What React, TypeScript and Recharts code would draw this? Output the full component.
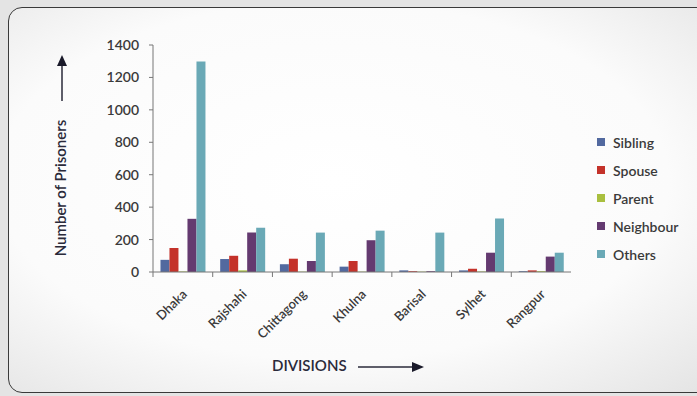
import { BarChart, Bar, XAxis, YAxis } from 'recharts';

const divisions = ['Dhaka', 'Rajshahi', 'Chittagong', 'Khulna', 'Barisal', 'Sylhet', 'Rangpur'];
const sibling = [75, 80, 48, 33, 10, 10, 5];
const spouse = [148, 100, 82, 68, 5, 20, 10];
const parent = [3, 10, 2, 2, 2, 3, 5];
const neighbour = [328, 243, 68, 196, 5, 119, 95];
const others = [1298, 273, 243, 255, 243, 330, 119];
const yTicks = [0, 200, 400, 600, 800, 1000, 1200, 1400];

const series = [
  { key: 'sibling', name: 'Sibling', color: '#52699f' },
  { key: 'spouse', name: 'Spouse', color: '#c4322a' },
  { key: 'parent', name: 'Parent', color: '#a9bf3f' },
  { key: 'neighbour', name: 'Neighbour', color: '#643a70' },
  { key: 'others', name: 'Others', color: '#6aa9b6' },
];

const data = divisions.map((d, i) => ({
  division: d,
  sibling: sibling[i],
  spouse: spouse[i],
  parent: parent[i],
  neighbour: neighbour[i],
  others: others[i],
}));

const font = 'Lato, "Open Sans", sans-serif';

function DivisionTick(props: any) {
  const { x, y, payload } = props;
  const half = payload && payload.offset ? payload.offset : 30;
  const ax = x + 5;
  const ay = y + 15;
  return (
    <g>
      <line x1={x - half} y1={y - 8} x2={x - half} y2={y - 3} stroke="#777" />
      <text
        x={ax}
        y={ay}
        textAnchor="end"
        fontSize={13}
        fontWeight={600}
        fill="#3a3a3a"
        fontFamily={font}
        transform={`rotate(-45, ${ax}, ${ay})`}
      >
        {payload.value}
      </text>
    </g>
  );
}

export default function App() {
  return (
    <div style={{ position: 'absolute', left: 0, top: 0, width: 697, height: 396, overflow: 'hidden', background: '#e4e4e4', fontFamily: font }}>
      <div
        style={{
          position: 'absolute',
          left: 8,
          top: 7,
          width: 720,
          height: 384,
          border: '1.5px solid #3a3a3a',
          borderRadius: 14,
          background: 'radial-gradient(ellipse at 45% 45%, #ffffff 0%, #fbfbfb 60%, #e2e2e2 100%)',
        }}
      />
      <div style={{ position: 'absolute', left: 0, top: 0 }}>
        <BarChart
          width={697}
          height={396}
          data={data}
          margin={{ top: 45, right: 126, bottom: 44, left: 93 }}
          barCategoryGap="12.5%"
          barGap={0}
        >
          <XAxis
            dataKey="division"
            height={80}
            interval={0}
            stroke="#777"
            tickLine={false}
            tick={<DivisionTick />}
          />
          <YAxis
            width={60}
            domain={[0, 1400]}
            ticks={yTicks}
            interval={0}
            stroke="#777"
            tickSize={4}
            tickMargin={10}
            tick={{ fontSize: 14, fontWeight: 600, fill: '#3a3a3a', fontFamily: font }}
          />
          {series.map((s) => (
            <Bar key={s.key} dataKey={s.key} name={s.name} fill={s.color} isAnimationActive={false} />
          ))}
        </BarChart>
      </div>
      <div style={{ position: 'absolute', left: 597, top: 128 }}>
        {series.map((s) => (
          <div key={s.key} style={{ display: 'flex', alignItems: 'center', height: 28, fontSize: 14, fontWeight: 600, color: '#3a3a3a' }}>
            <span style={{ display: 'inline-block', width: 8, height: 8, background: s.color, marginRight: 8 }} />
            {s.name}
          </div>
        ))}
      </div>
      <svg style={{ position: 'absolute', left: 0, top: 0 }} width={697} height={396}>
        <text
          x={62}
          y={188}
          transform="rotate(-90, 62, 188)"
          textAnchor="middle"
          dominantBaseline="middle"
          fontSize={15}
          fontWeight={600}
          fill="#2a2a3a"
          fontFamily={font}
        >
          Number of Prisoners
        </text>
        <line x1={62} y1={101} x2={62} y2={64} stroke="#2a2a3a" strokeWidth={1.5} />
        <polygon points="57,66 67,66 62,55" fill="#1a1a2a" />
        <text x={272} y={367} fontSize={15} fontWeight={600} fill="#2a2a3a" fontFamily={font} dominantBaseline="middle">
          DIVISIONS
        </text>
        <line x1={358} y1={367} x2={414} y2={367} stroke="#2a2a3a" strokeWidth={1.5} />
        <polygon points="412,362 412,372 424,367" fill="#1a1a2a" />
      </svg>
    </div>
  );
}
